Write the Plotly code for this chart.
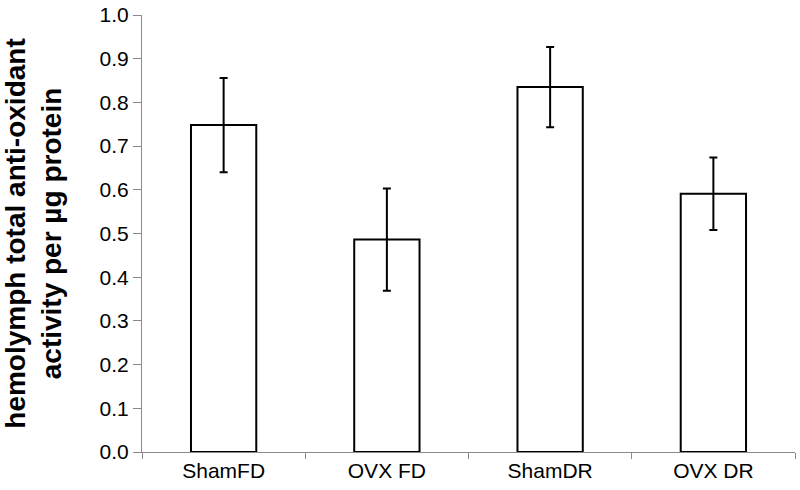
import plotly.graph_objects as go

categories = ["ShamFD", "OVX FD", "ShamDR", "OVX DR"]
means = [0.748, 0.486, 0.835, 0.591]
errors = [0.108, 0.117, 0.092, 0.083]
y_title_lines = ["hemolymph total anti-oxidant", "activity per µg protein"]

fig = go.Figure()
fig.add_trace(go.Bar(
    x=categories, y=means, width=0.4,
    marker=dict(color="white", line=dict(color="black", width=2)),
    error_y=dict(type="data", array=errors, visible=True,
                 color="black", thickness=2, width=4),
))

fig.update_layout(
    width=800, height=490,
    margin=dict(l=142, r=5, t=15, b=38, autoexpand=False),
    plot_bgcolor="white", paper_bgcolor="white",
    showlegend=False,
    font=dict(family="Liberation Sans, Arial", color="black"),
)
fig.update_xaxes(
    showline=True, linecolor="#8a8a8a", linewidth=1,
    ticks="outside", tickson="boundaries", ticklen=6, tickcolor="#8a8a8a",
    tickfont=dict(size=21), showgrid=False, automargin=False,
)
fig.update_yaxes(
    range=[0, 1], dtick=0.1, tickformat=".1f",
    showline=True, linecolor="#8a8a8a", linewidth=1,
    ticks="outside", ticklen=8, tickcolor="#8a8a8a",
    tickfont=dict(size=21), showgrid=False, zeroline=False, automargin=False,
    ticklabeloverflow="allow",
    title=dict(text="<br>".join("<b>" + s + "</b>" for s in y_title_lines),
               font=dict(size=28, family="Liberation Sans, Arial"), standoff=38),
)

fig.write_html("out.html", config={"displayModeBar": False},
               post_script="document.body.style.margin='0';")
